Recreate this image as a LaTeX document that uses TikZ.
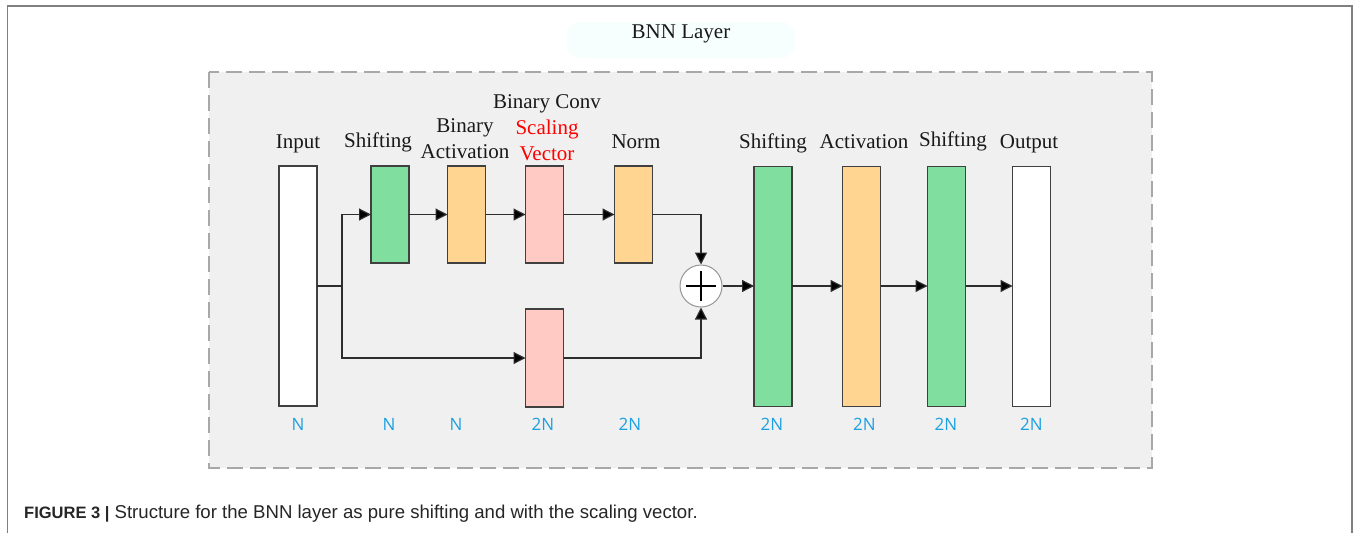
\documentclass[tikz,border=0pt]{standalone}
\usepackage{fontspec}
\setmainfont{Liberation Serif}
\newfontfamily\capfont{Liberation Sans}
\newfontfamily\numfont{Open Sans}
\usetikzlibrary{arrows.meta}
\definecolor{gfill}{RGB}{128,222,158}
\definecolor{ofill}{RGB}{255,213,145}
\definecolor{pfill}{RGB}{255,201,196}
\definecolor{panel}{RGB}{240,240,240}
\definecolor{dashc}{RGB}{168,168,168}
\definecolor{boxline}{RGB}{64,64,64}
\definecolor{numblue}{RGB}{27,161,226}
\definecolor{frame}{RGB}{128,128,128}
\definecolor{titlebg}{RGB}{247,254,254}
\definecolor{linec}{RGB}{45,45,45}
\definecolor{circc}{RGB}{150,150,150}
\begin{document}
\begin{tikzpicture}[x=1pt,y=-1pt,
  blk/.style={draw=boxline, line width=1.3pt, minimum width=38pt, inner sep=0pt, outer sep=0pt},
  shortblk/.style={blk, minimum height=97pt},
  tallblk/.style={blk, minimum height=240pt},
  lbl/.style={anchor=base, inner sep=0pt, font=\fontsize{21}{25}\selectfont, text=black!90},
  num/.style={anchor=base, inner sep=0pt, font=\numfont\fontsize{17}{20}\selectfont, text=numblue},
  arr/.style={draw=linec, line width=1.2pt, -{Triangle[length=12pt,width=12pt,fill=black]}},
  ln/.style={draw=linec, line width=1.2pt}
]
\useasboundingbox (0,0) rectangle (1356,533);
\fill[white] (0,0) rectangle (1356,533);
% outer frame
\draw[frame, line width=1.3pt] (7.5,533) -- (7.5,6) -- (1352,6) -- (1352,533);
% title
\fill[titlebg, rounded corners=14pt] (567,22) rectangle (795,58);
\node[lbl] (title) at (681,38) {BNN Layer};
% dashed panel
\draw[dashc, fill=panel, line width=1.5pt, dash pattern=on 16pt off 7pt] (209,72) rectangle (1152,468);

% blocks
\node[tallblk, fill=white] (in) at (298,286) {};
\node[shortblk, fill=gfill] (s1) at (390,214.5) {};
\node[shortblk, fill=ofill] (ba) at (466.5,214.5) {};
\node[shortblk, fill=pfill] (sv) at (544.5,214.5) {};
\node[shortblk, fill=ofill] (nm) at (633.5,214.5) {};
\node[blk, minimum height=98pt, fill=pfill] (sv2) at (544.5,358) {};
\node[circle, draw=circc, line width=1pt, fill=white, minimum size=42pt, inner sep=0pt] (add) at (701,286) {};
\draw[black, line width=1.6pt] ([xshift=-15pt]add.center) -- ([xshift=15pt]add.center);
\draw[black, line width=1.6pt] ([yshift=-15pt]add.center) -- ([yshift=15pt]add.center);
\node[tallblk, fill=gfill] (s2) at (773,286.5) {};
\node[tallblk, fill=ofill] (act) at (861.5,286.5) {};
\node[tallblk, fill=gfill] (s3) at (946.5,286.5) {};
\node[tallblk, fill=white] (out) at (1031.5,286.5) {};

% connectors
\coordinate (split) at (342,286);
\draw[ln] (in.east) -- (split);
\draw[arr] (split) |- (s1.west);
\draw[arr] (split) |- (sv2.west);
\draw[arr] (s1) -- (ba);
\draw[arr] (ba) -- (sv);
\draw[arr] (sv) -- (nm);
\draw[arr] (nm.east) -| (add.north);
\draw[arr] (sv2.east) -| (add.south);
\draw[arr] (add.east) -- (add.east -| s2.west);
\draw[arr] (s2.east |- add.east) -- (act.west |- add.east);
\draw[arr] (act.east |- add.east) -- (s3.west |- add.east);
\draw[arr] (s3.east |- add.east) -- (out.west |- add.east);

% labels
\node[lbl] (tin) at (298,148) {Input};
\node[lbl] (ts1) at (378,147) {Shifting};
\node[lbl] (tba1) at (465,132) {Binary};
\node[lbl] (tba2) at (465,158) {Activation};
\node[lbl] (tbc) at (547,108) {Binary Conv};
\node[lbl, text=red] (tsv1) at (547,134) {Scaling};
\node[lbl, text=red] (tsv2) at (547,160) {Vector};
\node[lbl] (tnm) at (636,148) {Norm};
\node[lbl] (ts2) at (773,148) {Shifting};
\node[lbl] (tact) at (864,148) {Activation};
\node[lbl] (ts3) at (953,146.5) {Shifting};
\node[lbl] (tout) at (1029,148) {Output};

% sizes
\node[num] (n1) at (298,430) {N};
\node[num] (n2) at (389,430) {N};
\node[num] (n3) at (456,430) {N};
\node[num] (n4) at (543,430) {2N};
\node[num] (n5) at (630,430) {2N};
\node[num] (n6) at (772,430) {2N};
\node[num] (n7) at (864.5,430) {2N};
\node[num] (n8) at (946,430) {2N};
\node[num] (n9) at (1031.5,430) {2N};

% caption
\node[anchor=base west, inner sep=0pt, font=\capfont\fontsize{18.6}{22}\selectfont, text=black!85] (cap) at (24,518)
  {{\fontsize{16.5}{20}\selectfont\bfseries FIGURE 3 |} Structure for the BNN layer as pure shifting and with the scaling vector.};
\end{tikzpicture}
\end{document}
